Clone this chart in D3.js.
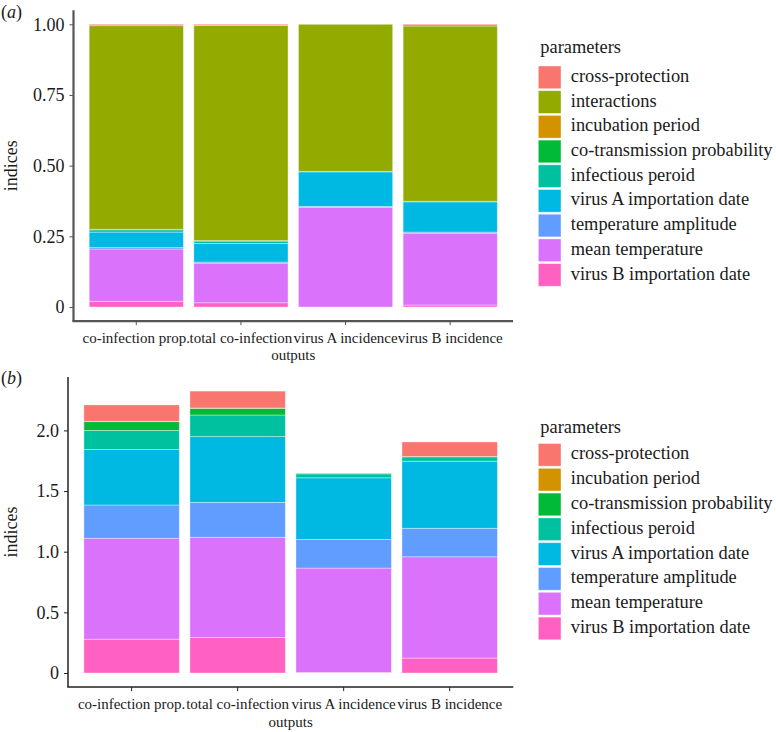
<!DOCTYPE html>
<html><head><meta charset="utf-8">
<script src="https://cdn.jsdelivr.net/npm/d3@7"></script>
<style>body{margin:0;background:#fff}svg{display:block}</style>
</head><body><svg id="c" width="776" height="732"></svg>
<script>
const categories = ["co-infection prop.", "total co-infection", "virus A incidence", "virus B incidence"];
// legend order (top of stack first)
const paramsA = ["cross-protection","interactions","incubation period","co-transmission probability","infectious peroid","virus A importation date","temperature amplitude","mean temperature","virus B importation date"];
const paramsB = ["cross-protection","incubation period","co-transmission probability","infectious peroid","virus A importation date","temperature amplitude","mean temperature","virus B importation date"];
const colors = {"cross-protection":"#F8766D","interactions":"#93AA00","incubation period":"#D39200","co-transmission probability":"#00BA38","infectious peroid":"#00C19F","virus A importation date":"#00B9E3","temperature amplitude":"#619CFF","mean temperature":"#DB72FB","virus B importation date":"#FF61C3"};
// panel (a) values per parameter, in category order
const aCross   = [0.005, 0.004, 0.000, 0.006];
const aInter   = [0.720, 0.761, 0.520, 0.620];
const aIncub   = [0.000, 0.000, 0.000, 0.000];
const aCotrans = [0.002, 0.002, 0.000, 0.000];
const aInfect  = [0.008, 0.008, 0.002, 0.002];
const aVirusA  = [0.055, 0.066, 0.122, 0.107];
const aAmp     = [0.005, 0.004, 0.004, 0.004];
const aMeanT   = [0.185, 0.140, 0.352, 0.254];
const aVirusB  = [0.020, 0.015, 0.000, 0.007];
// panel (b)
const bCross   = [0.135, 0.139, 0.004, 0.120];
const bIncub   = [0.003, 0.003, 0.000, 0.000];
const bCotrans = [0.072, 0.055, 0.003, 0.003];
const bInfect  = [0.158, 0.178, 0.033, 0.036];
const bVirusA  = [0.457, 0.542, 0.509, 0.553];
const bAmp     = [0.274, 0.288, 0.235, 0.235];
const bMeanT   = [0.832, 0.826, 0.860, 0.835];
const bVirusB  = [0.279, 0.293, 0.005, 0.123];
const ticksA = [0, 0.25, 0.5, 0.75, 1.0];
const tickLabelsA = ["0", "0.25", "0.50", "0.75", "1.00"];
const ticksB = [0, 0.5, 1.0, 1.5, 2.0];
const tickLabelsB = ["0", "0.5", "1.0", "1.5", "2.0"];

const valsA = {"cross-protection":aCross,"interactions":aInter,"incubation period":aIncub,"co-transmission probability":aCotrans,"infectious peroid":aInfect,"virus A importation date":aVirusA,"temperature amplitude":aAmp,"mean temperature":aMeanT,"virus B importation date":aVirusB};
const valsB = {"cross-protection":bCross,"incubation period":bIncub,"co-transmission probability":bCotrans,"infectious peroid":bInfect,"virus A importation date":bVirusA,"temperature amplitude":bAmp,"mean temperature":bMeanT,"virus B importation date":bVirusB};

const FONT = "Liberation Serif";
const FS = 18;      // y ticks, axis title, legend
const FSX = 15;     // x tick labels and x title
const svg = d3.select("#c");

function panel(cfg) {
  const {params, vals, ticks, tickLabels, x0, x1, zeroY, unitPx, letter, letterY, legX, legTitleY, legY0, legStep, tickLabY, xLabY, axisColor, axisW} = cfg;
  const table = categories.map((c, i) => {
    const o = {cat: c};
    params.forEach(p => o[p] = vals[p][i]);
    return o;
  });
  const keys = params.slice().reverse(); // bottom of stack first
  const series = d3.stack().keys(keys)(table);
  const maxV = d3.max(table, d => d3.sum(params, p => d[p]));
  const pad = maxV * 0.05;
  const yBot = zeroY + pad * unitPx, yTop = zeroY - (maxV + pad) * unitPx;
  const y = d3.scaleLinear().domain([-pad, maxV + pad]).range([yBot, yTop]);
  const x = d3.scaleBand().domain(categories).range([x0, x1]).paddingInner(0.1).paddingOuter(0.15);
  const g = svg.append("g");
  series.forEach(s => {
    g.selectAll(null).data(s).enter().append("rect")
      .attr("x", d => x(d.data.cat))
      .attr("width", x.bandwidth())
      .attr("y", d => y(d[1]))
      .attr("height", d => Math.max(0, y(d[0]) - y(d[1])))
      .attr("fill", colors[s.key])
      .attr("stroke", "#ffffff").attr("stroke-opacity", 0.45).attr("stroke-width", 0.8);
  });
  const yAxis = d3.axisLeft(y).tickValues(ticks).tickFormat((d, i) => tickLabels[i]).tickSize(4).tickPadding(5);
  const ya = g.append("g").attr("transform", `translate(${x0},0)`).call(yAxis);
  const xAxis = d3.axisBottom(x).tickSize(4).tickPadding(tickLabY);
  const xa = g.append("g").attr("transform", `translate(0,${yBot})`).call(xAxis);
  ya.attr("font-family", FONT).attr("font-size", FS);
  xa.attr("font-family", FONT).attr("font-size", FSX);
  [ya, xa].forEach(a => {
    a.select(".domain").remove();
    a.selectAll("line").attr("stroke", axisColor).attr("stroke-width", 1);
    a.selectAll("text").attr("fill", "#1a1a1a");
  });
  g.append("line").attr("x1", x0).attr("x2", x0).attr("y1", yTop).attr("y2", yBot).attr("stroke", axisColor).attr("stroke-width", axisW);
  g.append("line").attr("x1", x0 - axisW / 2).attr("x2", x1).attr("y1", yBot).attr("y2", yBot).attr("stroke", axisColor).attr("stroke-width", axisW);
  const T = (sel, fs) => sel.attr("font-family", FONT).attr("font-size", fs || FS).attr("fill", "#1a1a1a");
  T(g.append("text"), FSX).attr("x", (x0 + x1) / 2).attr("y", xLabY).attr("text-anchor", "middle").text("outputs");
  T(g.append("text")).attr("transform", `translate(17,${(yTop + yBot) / 2}) rotate(-90)`).attr("text-anchor", "middle").text("indices");
  const lt = T(g.append("text")).attr("x", 1).attr("y", letterY);
  lt.append("tspan").text("(");
  lt.append("tspan").attr("font-style", "italic").text(letter);
  lt.append("tspan").text(")");
  // legend
  const leg = g.append("g");
  T(leg.append("text"), 18.4).attr("x", legX + 2).attr("y", legTitleY).text("parameters");
  const items = leg.selectAll(null).data(params).enter().append("g")
    .attr("transform", (d, i) => `translate(${legX},${legY0 + i * legStep})`);
  items.append("rect").attr("width", 22.7).attr("height", 22.7).attr("fill", d => colors[d])
    .attr("stroke", "#ffffff").attr("stroke-opacity", 0.5).attr("stroke-width", 0.8);
  T(items.append("text"), 18.4).attr("x", 32.5).attr("y", 11.35 + 4.6).text(d => d);
}

panel({params: paramsA, vals: valsA, ticks: ticksA, tickLabels: tickLabelsA, x0: 73.5, x1: 513, zeroY: 307, unitPx: 282.7,
  letter: "a", letterY: 18, legX: 538.3, legTitleY: 53, legY0: 66, legStep: 24.7, tickLabY: 7, xLabY: 360, axisColor: "#555", axisW: 2.2});
panel({params: paramsB, vals: valsB, ticks: ticksB, tickLabels: tickLabelsB, x0: 68, x1: 513.3, zeroY: 673, unitPx: 121.3,
  letter: "b", letterY: 384, legX: 538.3, legTitleY: 433, legY0: 443.5, legStep: 24.8, tickLabY: 7, xLabY: 727, axisColor: "#222", axisW: 1.5});
</script></body></html>
